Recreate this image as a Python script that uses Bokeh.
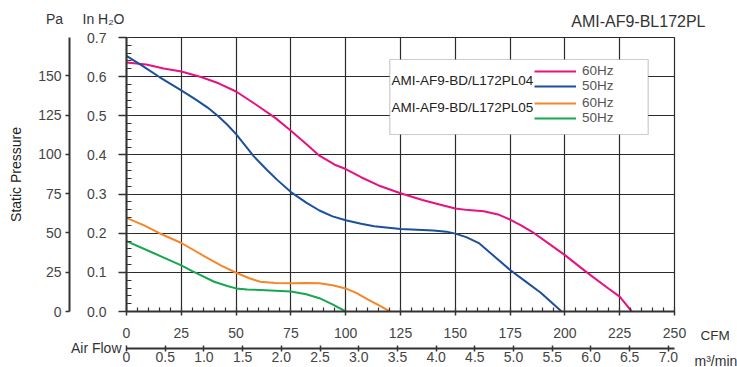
from bokeh.plotting import figure
from bokeh.models import (Range1d, LinearAxis, FixedTicker, NumeralTickFormatter,
                          CustomJSTickFormatter, Label, Legend, LegendItem, BoxAnnotation)
from bokeh.embed import file_html
from bokeh.resources import INLINE

FONT = "Liberation Sans"

# ---------------- data (CFM vs inH2O) ----------------
pl04_60_cfm = [0, 9, 17, 25, 34, 42, 50, 60, 68, 75, 82, 88, 95, 100, 107, 115, 125, 135,
               145, 150, 156, 163, 170, 175, 180, 186, 193, 200, 210, 220, 225, 230.5]
pl04_60_p = [0.636, 0.631, 0.621, 0.613, 0.599, 0.583, 0.562, 0.525, 0.494, 0.462, 0.428,
             0.398, 0.375, 0.364, 0.343, 0.322, 0.302, 0.285, 0.270, 0.263, 0.259, 0.256,
             0.247, 0.235, 0.220, 0.200, 0.172, 0.144, 0.100, 0.058, 0.038, 0.0]

pl04_50_cfm = [0, 8, 15, 25, 32, 37, 42, 46, 50, 54, 58, 64, 69, 75, 82, 88, 94, 100, 107,
               113, 125, 140, 146, 150, 155, 161, 168, 175, 182, 189, 198.5]
pl04_50_p = [0.653, 0.625, 0.599, 0.565, 0.540, 0.521, 0.498, 0.477, 0.453, 0.425, 0.397,
             0.362, 0.335, 0.305, 0.278, 0.258, 0.243, 0.233, 0.224, 0.218, 0.211, 0.207,
             0.204, 0.199, 0.190, 0.174, 0.140, 0.106, 0.077, 0.048, 0.0]

pl05_60_cfm = [0, 8, 15, 25, 35, 43, 50, 56, 61, 68, 75, 82, 88, 94, 100, 105, 110, 115, 120.2]
pl05_60_p = [0.239, 0.220, 0.200, 0.175, 0.143, 0.118, 0.099, 0.085, 0.076, 0.073, 0.072,
             0.073, 0.072, 0.067, 0.059, 0.047, 0.031, 0.016, 0.0]

pl05_50_cfm = [0, 12, 25, 30, 40, 46, 50, 55, 61, 68, 75, 82, 88, 94, 100]
pl05_50_p = [0.180, 0.150, 0.118, 0.103, 0.076, 0.065, 0.059, 0.056, 0.055, 0.053, 0.051,
             0.044, 0.034, 0.018, 0.0]

cfm_ticks = [0, 25, 50, 75, 100, 125, 150, 175, 200, 225, 250]
cfm_minor = list(range(0, 251, 5))
inh2o_ticks = [0.0, 0.1, 0.2, 0.3, 0.4, 0.5, 0.6, 0.7]
inh2o_minor = [i / 50 for i in range(0, 36)]
pa_ticks = [0, 25, 50, 75, 100, 125, 150]
m3_ticks = [0, 0.5, 1.0, 1.5, 2.0, 2.5, 3.0, 3.5, 4.0, 4.5, 5.0, 5.5, 6.0, 6.5, 7.0]

PA_PER_INH2O = 249.089
M3_PER_CFM = 0.0283168
CFM_MAX = 250
INH2O_MAX = 0.7

title_text = "AMI-AF9-BL172PL"
model_04 = "AMI-AF9-BD/L172PL04"
model_05 = "AMI-AF9-BD/L172PL05"

c_pink = "#E5127F"
c_blue = "#1C4F9C"
c_orange = "#F5862A"
c_green = "#17A751"

AX = "#333333"
TXT = "#444444"
W, H = 737, 367

p = figure(width=W, height=H, x_range=Range1d(0, CFM_MAX), y_range=Range1d(0, INH2O_MAX),
           output_backend="svg", toolbar_location=None,
           min_border_left=126, min_border_right=63, min_border_top=37, min_border_bottom=56)
p.title.text = ""
p.background_fill_color = "white"
p.border_fill_color = "white"
p.outline_line_color = "#2b2b2b"
p.outline_line_width = 1.2

# --- CFM axis (default, adjacent to frame)
xa = p.xaxis[0]
xa.ticker = FixedTicker(ticks=cfm_ticks, minor_ticks=cfm_minor)
xa.axis_line_width = 2
xa.axis_line_color = AX
xa.major_tick_line_color = AX
xa.major_tick_line_width = 1.5
xa.major_tick_in = 0
xa.major_tick_out = 4
xa.minor_tick_line_color = AX
xa.minor_tick_line_width = 1.2
xa.minor_tick_in = 4
xa.minor_tick_out = 0
xa.major_label_standoff = 12
xa.major_label_text_font = FONT
xa.major_label_text_font_size = "14px"
xa.major_label_text_color = TXT
xa.axis_label = " "
xa.axis_label_text_font_size = "1px"
xa.axis_label_standoff = 4

# --- inH2O axis (default left)
ya = p.yaxis[0]
ya.ticker = FixedTicker(ticks=inh2o_ticks, minor_ticks=inh2o_minor)
ya.formatter = NumeralTickFormatter(format="0.0")
ya.axis_line_width = 2
ya.axis_line_color = AX
ya.major_tick_line_color = AX
ya.major_tick_line_width = 1.5
ya.major_tick_in = 0
ya.major_tick_out = 8
ya.minor_tick_line_color = AX
ya.minor_tick_line_width = 1.2
ya.minor_tick_in = 5
ya.minor_tick_out = 0
ya.major_label_standoff = 12
ya.major_label_text_font = FONT
ya.major_label_text_font_size = "14px"
ya.major_label_text_color = TXT
ya.axis_label = " "
ya.axis_label_text_font_size = "1px"
ya.axis_label_standoff = 10

p.xgrid.grid_line_color = "#2b2b2b"
p.xgrid.grid_line_width = 1.2
p.ygrid.grid_line_color = "#2b2b2b"
p.ygrid.grid_line_width = 1.2

# --- extra ranges
p.extra_y_ranges = {"pa": Range1d(0, INH2O_MAX * PA_PER_INH2O)}
p.extra_x_ranges = {"m3": Range1d(0, CFM_MAX * M3_PER_CFM)}

pa_axis = LinearAxis(y_range_name="pa", ticker=FixedTicker(ticks=pa_ticks, minor_ticks=[]),
                     axis_label="Static Pressure")
pa_axis.axis_line_width = 2
pa_axis.axis_line_color = AX
pa_axis.major_tick_line_color = AX
pa_axis.major_tick_line_width = 1.5
pa_axis.major_tick_in = 0
pa_axis.major_tick_out = 4
pa_axis.minor_tick_line_color = None
pa_axis.major_label_standoff = 4
pa_axis.major_label_text_font = FONT
pa_axis.major_label_text_font_size = "14px"
pa_axis.major_label_text_color = TXT
pa_axis.axis_label_text_font = FONT
pa_axis.axis_label_text_font_size = "14px"
pa_axis.axis_label_text_font_style = "normal"
pa_axis.axis_label_text_color = "#222222"
pa_axis.axis_label_standoff = 11
p.add_layout(pa_axis, "left")

m3_axis = LinearAxis(x_range_name="m3", ticker=FixedTicker(ticks=m3_ticks, minor_ticks=[]),
                     formatter=CustomJSTickFormatter(code="return tick == 0 ? '0' : tick.toFixed(1);"))
m3_axis.axis_line_width = 2
m3_axis.axis_line_color = AX
m3_axis.major_tick_line_color = AX
m3_axis.major_tick_line_width = 1.5
m3_axis.major_tick_in = 3
m3_axis.major_tick_out = 3
m3_axis.minor_tick_line_color = None
m3_axis.major_label_standoff = 0
m3_axis.major_label_text_font = FONT
m3_axis.major_label_text_font_size = "14px"
m3_axis.major_label_text_color = TXT
p.add_layout(m3_axis, "below")

# --- curves
r1 = p.line(pl04_60_cfm, pl04_60_p, line_color=c_pink, line_width=2)
r2 = p.line(pl04_50_cfm, pl04_50_p, line_color=c_blue, line_width=2)
r3 = p.line(pl05_60_cfm, pl05_60_p, line_color=c_orange, line_width=2)
r4 = p.line(pl05_50_cfm, pl05_50_p, line_color=c_green, line_width=2)

# --- legend box
box = BoxAnnotation(left=120.1, right=238.0, bottom=0.4522, top=0.6438,
                    fill_color="white", fill_alpha=1.0, line_color="#555555", line_width=1.2,
                    level="annotation")
p.add_layout(box)

def mk_legend(items, loc):
    lg = Legend(items=items, location=loc, orientation="vertical")
    lg.glyph_width = 42
    lg.glyph_height = 12
    lg.label_height = 12
    lg.label_standoff = 6
    lg.spacing = -2
    lg.padding = 0
    lg.margin = 0
    lg.border_line_color = None
    lg.background_fill_alpha = 0
    lg.label_text_font = FONT
    lg.label_text_font_size = "13.5px"
    lg.label_text_color = "#555555"
    return lg

leg1 = mk_legend([LegendItem(label="60Hz", renderers=[r1]), LegendItem(label="50Hz", renderers=[r2])], (408, 218))
leg2 = mk_legend([LegendItem(label="60Hz", renderers=[r3]), LegendItem(label="50Hz", renderers=[r4])], (408, 186))
p.add_layout(leg1, "center")
p.add_layout(leg2, "center")

for txt, yv in [(model_04, 0.5914), (model_05, 0.5219)]:
    p.add_layout(Label(x=120.9, y=yv, text=txt, text_font=FONT, text_font_size="13.5px",
                       text_color="#222222", text_align="left", text_baseline="middle"))

# --- transparent overlay (separate root) for the texts outside the plotting frame
ov = figure(width=W, height=H, x_range=Range1d(0, W), y_range=Range1d(H, 0),
            output_backend="svg", toolbar_location=None, min_border=0,
            x_axis_location=None, y_axis_location=None)
ov.title.text = ""
ov.grid.visible = False
ov.outline_line_color = None
ov.background_fill_alpha = 0
ov.border_fill_alpha = 0
ov.styles = {"position": "absolute", "left": "0px", "top": "0px"}

def olbl(x, y, text, size="14px", color="#333333", align="left"):
    ov.add_layout(Label(x=x, y=y, text=text, text_font=FONT, text_font_size=size,
                        text_color=color, text_align=align, text_baseline="middle"))

olbl(54, 18.5, "Pa", align="center")
olbl(82, 18.5, "In H\u2082O")
olbl(705, 20.5, title_text, size="16px", align="right")
olbl(700, 335, "CFM", size="13.5px")
olbl(121, 347.5, "Air Flow", align="right")
olbl(694, 360, "m\u00b3/min")

open("out.html", "w").write(file_html([p, ov], INLINE))
